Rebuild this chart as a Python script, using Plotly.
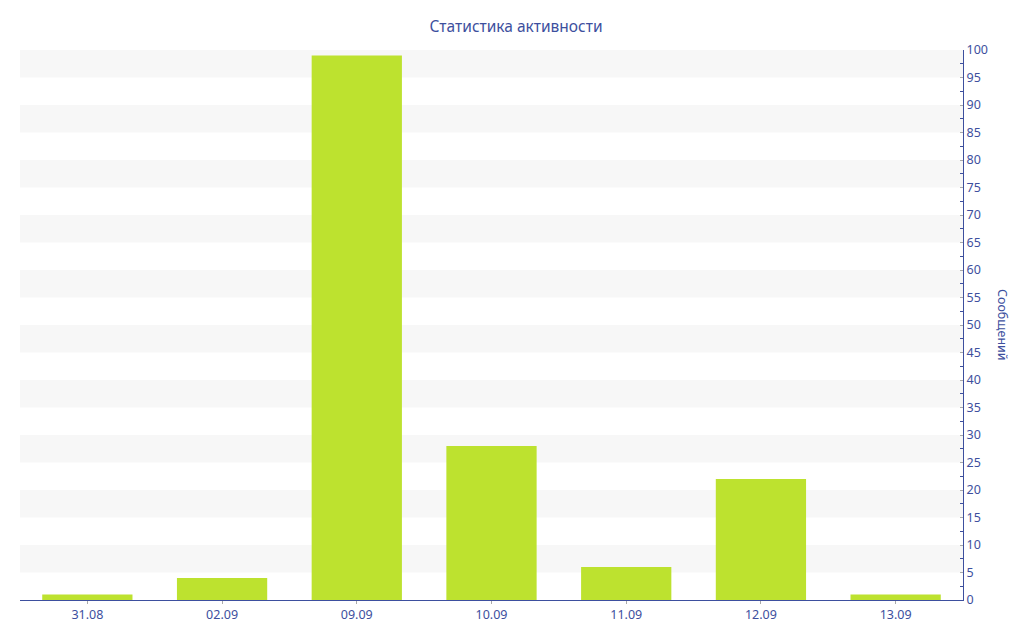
import plotly.graph_objects as go

dates = ['31.08', '02.09', '09.09', '10.09', '11.09', '12.09', '13.09']
messages = [1, 4, 99, 28, 6, 22, 1]

TEXT_COLOR = '#3d4f9e'
BAR_COLOR = '#bde22f'
BAND_COLOR = '#f7f7f7'

fig = go.Figure()
fig.add_trace(go.Bar(x=dates, y=messages, marker=dict(color=BAR_COLOR, line=dict(width=0)),
                     hoverinfo='x+y'))

# alternating light bands every 5 messages
for lo in range(5, 100, 10):
    fig.add_hrect(y0=lo, y1=lo + 5, fillcolor=BAND_COLOR, line_width=0, layer='below')

# the page body has an 8px margin, so the figure is a bit smaller than the window
fig.update_layout(
    width=1016, height=632,
    title=dict(text='Статистика активности', x=0.5, xanchor='center', y=0.97, yanchor='middle',
               font=dict(size=15.5, color=TEXT_COLOR)),
    font=dict(family='Noto Sans, DejaVu Sans, sans-serif', size=12.5, color=TEXT_COLOR),
    margin=dict(l=12, r=61, t=42, b=40),
    plot_bgcolor='white', paper_bgcolor='white',
    bargap=0.33, showlegend=False,
    xaxis=dict(showgrid=False, showline=True, linecolor=TEXT_COLOR, linewidth=1,
               ticks='outside', ticklen=3, tickcolor='#aaaaaa', fixedrange=True),
    yaxis=dict(side='right', range=[0, 100], dtick=5, showgrid=False, zeroline=False,
               showline=True, linecolor=TEXT_COLOR, linewidth=1,
               ticks='inside', ticklen=3, tickcolor='#aaaaaa',
               minor=dict(dtick=2.5, ticks='inside', ticklen=3, tickcolor=TEXT_COLOR),
               fixedrange=True),
    annotations=[dict(text='Сообщений', xref='paper', yref='paper', x=1.0, y=0.5,
                      xanchor='center', xshift=40, textangle=90, showarrow=False,
                      font=dict(size=12.5, color=TEXT_COLOR))],
)

fig.write_html('out.html')
